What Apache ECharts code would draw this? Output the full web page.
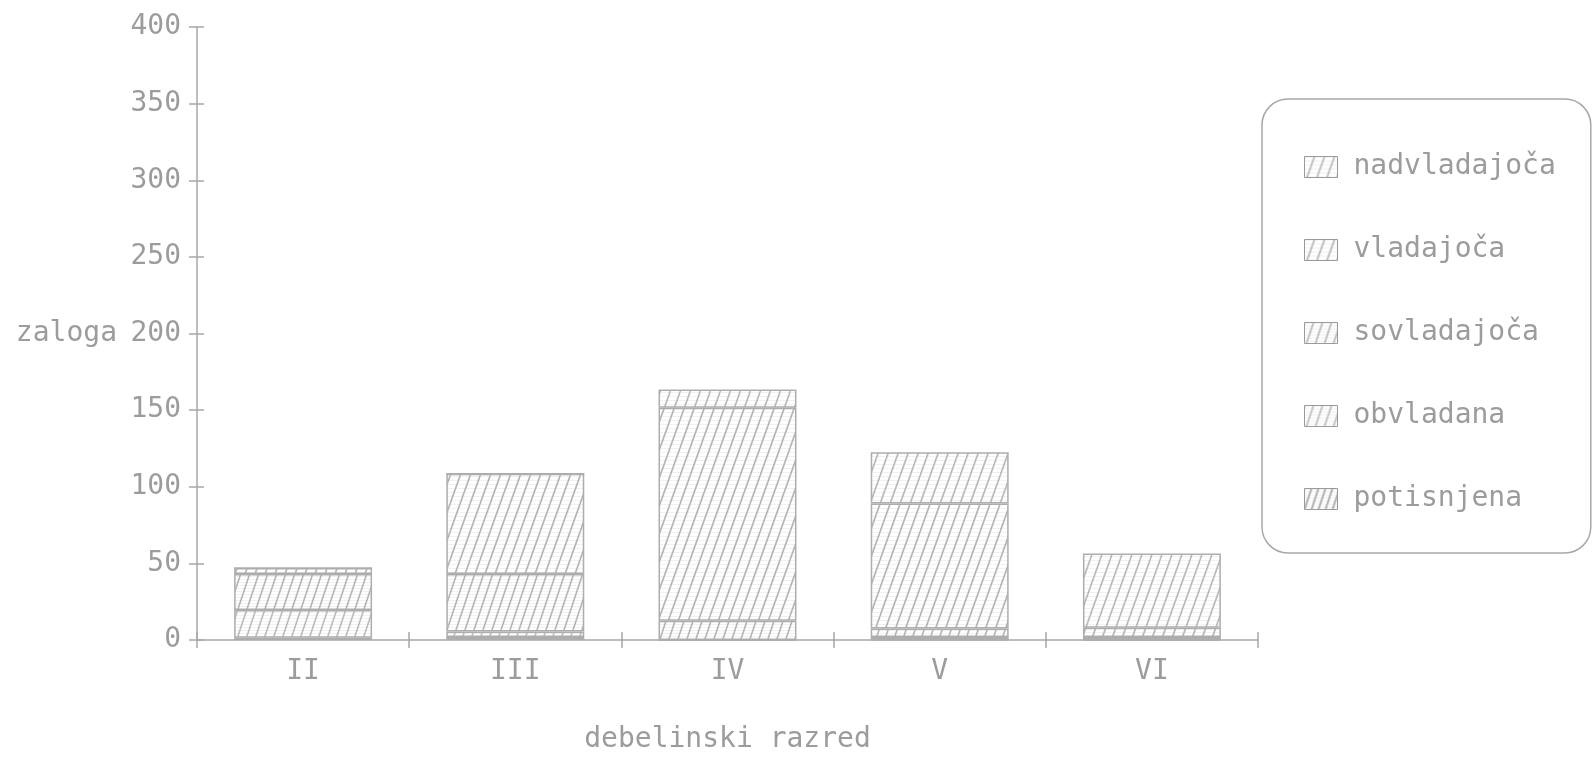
<!DOCTYPE html>
<html>
<head>
<meta charset="utf-8">
<script src="https://cdn.jsdelivr.net/npm/echarts@6/dist/echarts.min.js"></script>
<style>
html,body{margin:0;padding:0;background:#fff;}
#chart{width:1593px;height:759px;}
</style>
</head>
<body>
<div id="chart"></div>
<script>
// ---- data ----
const categories = ['II', 'III', 'IV', 'V', 'VI'];
const seriesNames = ['nadvladajoča', 'vladajoča', 'sovladajoča', 'obvladana', 'potisnjena'];
const nadvladajoca = [0, 0, 12, 33.5, 48.5];
const vladajoca    = [4, 65.5, 139, 81.5, 6];
const sovladajoca  = [23.5, 37.5, 12.5, 5.5, 2];
const obvladana    = [18, 3.5, 0, 2, 0];
const potisnjena   = [1.5, 2, 0, 0, 0];
const yTicks = [0, 50, 100, 150, 200, 250, 300, 350, 400];
const yAxisTitle = 'zaloga';
const xAxisTitle = 'debelinski razred';

// ---- styling helpers ----
const GRAY = '#9c9c9c';
const FONT = '"DejaVu Sans Mono", "Liberation Mono", monospace';

function hatch(W, H, lineColor, lw, scan) {
  const c = document.createElement('canvas');
  c.width = W; c.height = H;
  const ctx = c.getContext('2d');
  ctx.fillStyle = '#ffffff';
  ctx.fillRect(0, 0, W, H);
  if (scan) {
    ctx.fillStyle = '#f1f1f1';
    for (let y = 0; y < H; y += scan) ctx.fillRect(0, y, W, 1);
  }
  ctx.strokeStyle = lineColor;
  ctx.lineWidth = lw;
  for (const off of [-W, 0, W]) {
    ctx.beginPath();
    ctx.moveTo(off, H);
    ctx.lineTo(off + W, 0);
    ctx.stroke();
  }
  return { image: c, repeat: 'repeat' };
}

const patterns = {
  'nadvladajoča': hatch(10, 28, '#b8b8b8', 1.6, 4),
  'vladajoča':    hatch(10, 28, '#b4b4b4', 1.6, 4),
  'sovladajoča':  hatch(9, 27, '#b4b4b4', 1.6, 3),
  'obvladana':    hatch(9, 27, '#bababa', 1.6, 3),
  'potisnjena':   hatch(7, 21, '#a8a8a8', 1.8, 3)
};

const valuesByName = {
  'nadvladajoča': nadvladajoca,
  'vladajoča': vladajoca,
  'sovladajoča': sovladajoca,
  'obvladana': obvladana,
  'potisnjena': potisnjena
};

// stacking bottom-up: potisnjena ... nadvladajoča
const stackOrder = ['potisnjena', 'obvladana', 'sovladajoča', 'vladajoča', 'nadvladajoča'];
const series = stackOrder.map(name => ({
  name: name,
  type: 'bar',
  stack: 'total',
  barWidth: '65%',
  xAxisIndex: 0,
  yAxisIndex: 0,
  data: valuesByName[name],
  itemStyle: {
    color: patterns[name],
    borderColor: '#adadad',
    borderWidth: 1.5
  },
  emphasis: { disabled: true },
  animation: false
}));

const chart = echarts.init(document.getElementById('chart'), null, { renderer: 'canvas' });

const axisLabelStyle = { color: GRAY, fontFamily: FONT, fontSize: 28 };

chart.setOption({
  backgroundColor: '#ffffff',
  animation: false,
  grid: { left: 197, right: 335, top: 27, bottom: 117, containLabel: false },
  legend: {
    orient: 'vertical',
    left: 1262,
    top: 99,
    data: seriesNames,
    icon: 'rect',
    itemWidth: 33,
    itemHeight: 21,
    itemGap: 53,
    padding: [53, 35, 39, 42],
    borderColor: '#a8a8a8',
    borderWidth: 1.5,
    borderRadius: 26,
    selectedMode: false,
    textStyle: { color: GRAY, fontFamily: FONT, fontSize: 28, lineHeight: 30, padding: [0, 0, 0, 11] },
    itemStyle: { borderColor: '#9a9a9a', borderWidth: 1 }
  },
  xAxis: [
    {
      type: 'category',
      data: categories,
      position: 'bottom',
      boundaryGap: true,
      name: xAxisTitle,
      nameLocation: 'middle',
      nameGap: 86,
      nameTextStyle: { color: GRAY, fontFamily: FONT, fontSize: 28 },
      axisLine: { lineStyle: { color: '#a8a8a8', width: 1.5 } },
      axisTick: { show: true, inside: false, length: 8, lineStyle: { color: '#a8a8a8', width: 1.5 } },
      axisLabel: Object.assign({ margin: 18 }, axisLabelStyle),
      splitLine: { show: false }
    },
    {
      type: 'category',
      data: categories,
      position: 'bottom',
      boundaryGap: true,
      axisLine: { show: false },
      axisTick: { show: true, inside: true, length: 8, lineStyle: { color: '#a8a8a8', width: 1.5 } },
      axisLabel: { show: false },
      splitLine: { show: false }
    }
  ],
  yAxis: [
    {
      type: 'value',
      min: yTicks[0],
      max: yTicks[yTicks.length - 1],
      interval: yTicks[1] - yTicks[0],
      position: 'left',
      name: yAxisTitle,
      nameLocation: 'middle',
      nameRotate: 0,
      nameGap: 80,
      nameTextStyle: { color: GRAY, fontFamily: FONT, fontSize: 28, align: 'right', verticalAlign: 'middle' },
      axisLine: { show: true, lineStyle: { color: '#a8a8a8', width: 1.5 } },
      axisTick: { show: true, inside: false, length: 8, lineStyle: { color: '#a8a8a8', width: 1.5 } },
      axisLabel: Object.assign({ margin: 16 }, axisLabelStyle),
      splitLine: { show: false }
    },
    {
      type: 'value',
      min: yTicks[0],
      max: yTicks[yTicks.length - 1],
      interval: yTicks[1] - yTicks[0],
      position: 'left',
      axisLine: { show: false },
      axisTick: { show: true, inside: true, length: 7, lineStyle: { color: '#a8a8a8', width: 1.5 } },
      axisLabel: { show: false },
      splitLine: { show: false }
    }
  ],
  series: series
});
</script>
</body>
</html>
